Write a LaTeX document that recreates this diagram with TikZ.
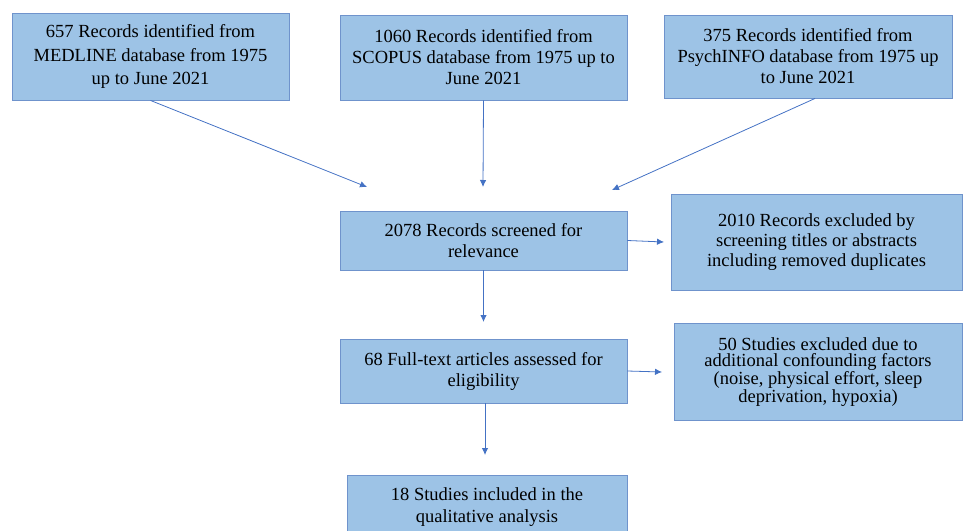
\documentclass[tikz,border=0pt]{standalone}
\usepackage{fontspec}
\setmainfont{Liberation Serif}
\newfontfamily\tnr{Liberation Serif}
\usetikzlibrary{arrows.meta}
\definecolor{boxfill}{HTML}{9DC3E6}
\definecolor{boxline}{HTML}{6F93CC}
\definecolor{arrowcol}{HTML}{4472C4}
\begin{document}
\begin{tikzpicture}[x=1pt,y=-1pt,
  box/.style={draw=boxline,line width=0.9pt,fill=boxfill,align=center,inner sep=0pt,
    font=\tnr\fontsize{18.5}{21}\selectfont},
  conn/.style={draw=arrowcol,line width=0.8pt,-{Latex[length=7pt,width=6.5pt]}}]
\useasboundingbox (0,0) rectangle (963,530);
\begin{scope}
\clip (0,0) rectangle (963,530);
\node[box,minimum width=277pt,minimum height=87pt,font=\tnr\fontsize{18.5}{23.5}\selectfont] (b1) at (150.5,56.5)
  {657 Records identified from\\MEDLINE database from 1975\\up to June 2021};
\node[box,minimum width=287pt,minimum height=85pt] (b2) at (483.5,57.5)
  {1060 Records identified from\\SCOPUS database from 1975 up to\\June 2021};
\node[box,minimum width=288pt,minimum height=83pt] (b3) at (808,56.5)
  {375 Records identified from\\PsychINFO database from 1975 up\\to June 2021};
\node[box,minimum width=287pt,minimum height=59pt] (b4) at (483.5,240.5)
  {2078 Records screened for\\relevance};
\node[box,minimum width=291pt,minimum height=96pt,font=\tnr\fontsize{18.5}{20}\selectfont] (b5) at (816.5,242)
  {2010 Records excluded by\\screening titles or abstracts\\including removed duplicates};
\node[box,minimum width=288pt,minimum height=97pt,font=\tnr\fontsize{18.5}{16.8}\selectfont] (b7) at (818,372)
  {50 Studies excluded due to\\additional confounding factors\\(noise, physical effort, sleep\\deprivation, hypoxia)};
\node[box,minimum width=287pt,minimum height=64pt] (b6) at (483.5,371)
  {68 Full-text articles assessed for\\eligibility};
\node[box,minimum width=280pt,minimum height=63pt,anchor=north,font=\tnr\fontsize{18.5}{22}\selectfont] (b8) at (487,475)
  {18 Studies included in the\\qualitative analysis};
\end{scope}
\coordinate (e1) at (367,187);
\coordinate (e2) at (483,187);
\coordinate (e3) at (612,190);
\coordinate (e4) at (664,242);
\coordinate (e5) at (483.5,322);
\coordinate (e6) at (662,372);
\coordinate (e7) at (485,455);
\draw[conn] (b1.south) -- (e1);
\draw[conn] (b2.south) -- (e2);
\draw[conn] ([xshift=7pt]b3.south) -- (e3);
\draw[conn] (b4.east) -- (e4);
\draw[conn] (b4.south) -- (e5);
\draw[conn] (b6.east) -- (e6);
\draw[conn] ([xshift=1.5pt]b6.south) -- (e7);
\end{tikzpicture}
\end{document}
